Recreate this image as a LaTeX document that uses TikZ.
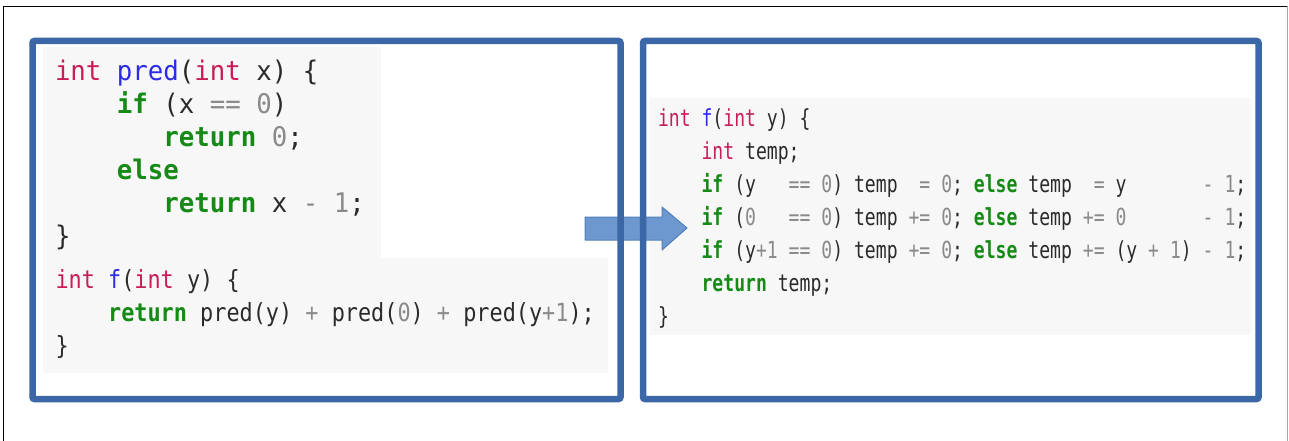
\documentclass[tikz,border=0pt]{standalone}
\usepackage{fontspec}
\newfontfamily\codeA{DejaVu Sans Mono}[FakeStretch=0.953,WordSpace={1,0,0}]
\newfontfamily\codeB{DejaVu Sans Mono}[FakeStretch=0.874,WordSpace={1,0,0}]
\newfontfamily\codeC{DejaVu Sans Mono}[FakeStretch=0.77,WordSpace={1,0,0}]
\definecolor{boxblue}{HTML}{3B67A6}
\definecolor{arrowfill}{HTML}{6C98CF}
\definecolor{arrowdraw}{HTML}{5280BE}
\definecolor{codebg}{HTML}{F7F7F7}
\definecolor{kwred}{HTML}{C81E55}
\definecolor{fnblue}{HTML}{2B2BE8}
\definecolor{kwgreen}{HTML}{168A16}
\definecolor{numgray}{HTML}{8A8A8A}
\definecolor{codetext}{HTML}{2A2A2A}
\newcommand\ckw[1]{\textcolor{kwred}{#1}}
\newcommand\cfn[1]{\textcolor{fnblue}{#1}}
\newcommand\cgr[1]{\textcolor{kwgreen}{\bfseries #1}}
\newcommand\cnum[1]{\textcolor{numgray}{#1}}
\tikzset{
  codeline/.style={anchor=base west, inner sep=0pt, outer sep=0pt, text=codetext},
  topcode/.style={codeline, font=\codeA\fontsize{27}{33}\selectfont},
  lowcode/.style={codeline, font=\codeB\fontsize{25}{33}\selectfont},
  rightcode/.style={codeline, font=\codeC\fontsize{23.5}{33}\selectfont},
  bluebox/.style={draw=boxblue, line width=6.5pt, rounded corners=2pt},
  bgbox/.style={fill=codebg, draw=none}
}
\begin{document}
\begin{tikzpicture}[x=1pt,y=-1pt]
\useasboundingbox (0,0) rectangle (1289,441);
% outer frame
\draw[black, line width=1.2pt] (3.5,441) -- (3.5,6.5) -- (1288,6.5);
\draw[gray!70, line width=1pt] (1287.5,6.5) -- (1287.5,441);
% code backgrounds
\fill[codebg] (43,47) rectangle (381,258);
\fill[codebg] (43,258) rectangle (608,373);
\fill[codebg] (650,98) rectangle (1251,335);
% arrow (behind the boxes)
\draw[fill=arrowfill, draw=arrowdraw, line width=1pt, line join=round]
  (585,217) -- (662,217) -- (662,207) -- (687,228) -- (662,250) -- (662,240) -- (585,240) -- cycle;
% boxes
\draw[bluebox] (32.5,41) rectangle (620.5,399);
\draw[bluebox] (643,41) rectangle (1258.5,399);
% left top code
\node[topcode] (a1) at (55,80.5) {\ckw{int}~\cfn{pred}(\ckw{int}~x)~\{};
\node[topcode] (a2) at (55,113.5) {~~~~\cgr{if}~(x~\cnum{==}~\cnum{0})};
\node[topcode] (a3) at (55,146.5) {~~~~~~~\cgr{return}~\cnum{0};};
\node[topcode] (a4) at (55,179.5) {~~~~\cgr{else}};
\node[topcode] (a5) at (55,212.5) {~~~~~~~\cgr{return}~x~\cnum{-}~\cnum{1};};
\node[topcode] (a6) at (55,245.5) {\}};
% left bottom code
\node[lowcode] (b1) at (55.5,288) {\ckw{int}~\cfn{f}(\ckw{int}~y)~\{};
\node[lowcode] (b2) at (55.5,321) {~~~~\cgr{return}~pred(y)~\cnum{+}~pred(\cnum{0})~\cnum{+}~pred(y\cnum{+1});};
\node[lowcode] (b3) at (55.5,354) {\}};
% right code
\node[rightcode] (c1) at (658,126) {\ckw{int}~\cfn{f}(\ckw{int}~y)~\{};
\node[rightcode] (c2) at (658,159) {~~~~\ckw{int}~temp;};
\node[rightcode] (c3) at (658,192) {~~~~\cgr{if}~(y~~~\cnum{==}~\cnum{0})~temp~~\cnum{=}~\cnum{0};~\cgr{else}~temp~~\cnum{=}~y~~~~~~~\cnum{-}~\cnum{1};};
\node[rightcode] (c4) at (658,225) {~~~~\cgr{if}~(\cnum{0}~~~\cnum{==}~\cnum{0})~temp~\cnum{+=}~\cnum{0};~\cgr{else}~temp~\cnum{+=}~\cnum{0}~~~~~~~\cnum{-}~\cnum{1};};
\node[rightcode] (c5) at (658,258) {~~~~\cgr{if}~(y\cnum{+1}~\cnum{==}~\cnum{0})~temp~\cnum{+=}~\cnum{0};~\cgr{else}~temp~\cnum{+=}~(y~\cnum{+}~\cnum{1})~\cnum{-}~\cnum{1};};
\node[rightcode] (c6) at (658,291) {~~~~\cgr{return}~temp;};
\node[rightcode] (c7) at (658,324) {\}};
\end{tikzpicture}
\end{document}
